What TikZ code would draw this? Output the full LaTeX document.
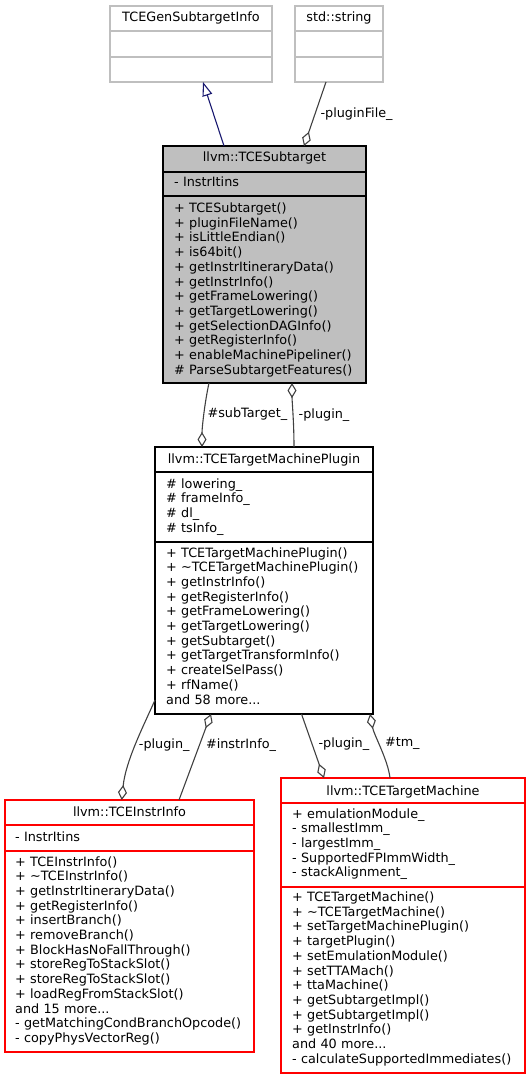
\documentclass[tikz,border=0pt]{standalone}
\usepackage{fontspec}
\setmainfont{DejaVu Sans}
\usepackage{xcolor}
\usetikzlibrary{arrows.meta, calc}

\definecolor{edgegray}{HTML}{404040}
\definecolor{boxgray}{HTML}{BFBFBF}
\definecolor{inhblue}{HTML}{191970}

\tikzset{
  umlbox/.style={draw=black, fill=white, line width=1.3pt, inner sep=0pt, outer sep=0pt, anchor=north west},
  sidebox/.style={umlbox, draw=boxgray},
  redbox/.style={umlbox, draw=red},
  curbox/.style={umlbox, fill=boxgray},
  divider/.style={line width=1.3pt},
  classtitle/.style={anchor=base, inner sep=0pt},
  memberlist/.style={anchor=base west, inner sep=0pt, align=left, text width=240pt},
  aggr/.style={draw=edgegray, line width=1.1pt, -{Diamond[open,length=15pt,width=9pt]}},
  inherit/.style={draw=inhblue, line width=1.1pt, -{Triangle[open,length=14pt,width=10pt]}},
  role/.style={inner sep=0pt},
}

\begin{document}
\begin{tikzpicture}[x=1pt, y=-1pt, font=\fontsize{12.8}{14.7}\selectfont]
\useasboundingbox (0,0) rectangle (531,1080);

% base classes
\node[sidebox, minimum width=162pt, minimum height=76pt] (gen) at (110,6) {};
\draw[divider, boxgray] (gen.west |- 0,31) -- (gen.east |- 0,31);
\draw[divider, boxgray] (gen.west |- 0,57) -- (gen.east |- 0,57);
\node[classtitle] (gen-title) at ($(gen.north)+(0,15.5)$) {TCEGenSubtargetInfo};

\node[sidebox, minimum width=88pt, minimum height=76pt] (str) at (295,6) {};
\draw[divider, boxgray] (str.west |- 0,31) -- (str.east |- 0,31);
\draw[divider, boxgray] (str.west |- 0,57) -- (str.east |- 0,57);
\node[classtitle] (str-title) at ($(str.north)+(0,15.5)$) {std::string};

% llvm::TCESubtarget
\node[curbox, minimum width=203pt, minimum height=237pt] (sub) at (163,146) {};
\draw[divider] (sub.west |- 0,172) -- (sub.east |- 0,172);
\draw[divider] (sub.west |- 0,196) -- (sub.east |- 0,196);
\node[classtitle] (sub-title) at ($(sub.north)+(0,15)$) {llvm::TCESubtarget};
\node[memberlist] (sub-attr) at (174,186.5) {- InstrItins};
\node[memberlist] (sub-ops) at (174,212.5) {+ TCESubtarget()\\+ pluginFileName()\\+ isLittleEndian()\\+ is64bit()\\+ getInstrItineraryData()\\+ getInstrInfo()\\+ getFrameLowering()\\+ getTargetLowering()\\+ getSelectionDAGInfo()\\+ getRegisterInfo()\\+ enableMachinePipeliner()\\\# ParseSubtargetFeatures()};

% llvm::TCETargetMachinePlugin
\node[umlbox, minimum width=218pt, minimum height=267pt] (plug) at (155,447) {};
\draw[divider] (plug.west |- 0,472) -- (plug.east |- 0,472);
\draw[divider] (plug.west |- 0,542) -- (plug.east |- 0,542);
\node[classtitle] (plug-title) at ($(plug.north)+(0,16)$) {llvm::TCETargetMachinePlugin};
\node[memberlist] (plug-attr) at (166,488) {\# lowering\_\\\# frameInfo\_\\\# dl\_\\\# tsInfo\_};
\node[memberlist] (plug-ops) at (166,557) {+ TCETargetMachinePlugin()\\+ \textasciitilde TCETargetMachinePlugin()\\+ getInstrInfo()\\+ getRegisterInfo()\\+ getFrameLowering()\\+ getTargetLowering()\\+ getSubtarget()\\+ getTargetTransformInfo()\\+ createISelPass()\\+ rfName()\\and 58 more...};

% llvm::TCEInstrInfo
\node[redbox, minimum width=249pt, minimum height=252pt] (instr) at (5,800) {};
\draw[divider, red] (instr.west |- 0,825) -- (instr.east |- 0,825);
\draw[divider, red] (instr.west |- 0,851) -- (instr.east |- 0,851);
\node[classtitle] (instr-title) at ($(instr.north)+(0,16)$) {llvm::TCEInstrInfo};
\node[memberlist] (instr-attr) at (15,841) {- InstrItins};
\node[memberlist] (instr-ops) at (15,866) {+ TCEInstrInfo()\\+ \textasciitilde TCEInstrInfo()\\+ getInstrItineraryData()\\+ getRegisterInfo()\\+ insertBranch()\\+ removeBranch()\\+ BlockHasNoFallThrough()\\+ storeRegToStackSlot()\\+ storeRegToStackSlot()\\+ loadRegFromStackSlot()\\and 15 more...\\- getMatchingCondBranchOpcode()\\- copyPhysVectorReg()};

% llvm::TCETargetMachine
\node[redbox, minimum width=244pt, minimum height=295pt] (tm) at (281,778) {};
\draw[divider, red] (tm.west |- 0,803) -- (tm.east |- 0,803);
\draw[divider, red] (tm.west |- 0,887) -- (tm.east |- 0,887);
\node[classtitle] (tm-title) at ($(tm.north)+(0,17)$) {llvm::TCETargetMachine};
\node[memberlist] (tm-attr) at (292,818) {+ emulationModule\_\\- smallestImm\_\\- largestImm\_\\- SupportedFPImmWidth\_\\- stackAlignment\_};
\node[memberlist] (tm-ops) at (292,901.5) {+ TCETargetMachine()\\+ \textasciitilde TCETargetMachine()\\+ setTargetMachinePlugin()\\+ targetPlugin()\\+ setEmulationModule()\\+ setTTAMach()\\+ ttaMachine()\\+ getSubtargetImpl()\\+ getSubtargetImpl()\\+ getInstrInfo()\\and 40 more...\\- calculateSupportedImmediates()};

% relations
\draw[inherit] (sub.north -| 224,0) -- (gen.south -| 203,0);
\draw[aggr] (str.south -| 326,0) -- (sub.north -| 304,0) node[role, midway, right=5pt] {-pluginFile\_};
\draw[aggr] (sub.south -| 209,0) .. controls +(-4,18) and +(0,-20) .. (plug.north -| 202,0) node[role, pos=0.5, right=3pt] {\#subTarget\_};
\draw[aggr] (plug.north -| 294,0) .. controls +(0,-25) and +(0,18) .. (sub.south -| 292,0) node[role, pos=0.45, right=5pt] {-plugin\_};
\draw[aggr] (plug.west |- 0,700) .. controls +(-12,27) and +(4,-39) .. (instr.north -| 121.7,0) node[role, pos=0.5, right=3pt] {-plugin\_};
\draw[aggr] (instr.north -| 179,0) -- (plug.south -| 211,0) node[role, pos=0.64, right=6pt] {\#instrInfo\_};
\draw[aggr] (plug.south -| 301.5,0) -- (tm.north -| 324,0) node[role, pos=0.47, right=6pt] {-plugin\_};
\draw[aggr] (tm.north -| 390,0) .. controls +(-2,-18) and +(4,21) .. (plug.south -| 370,0) node[role, pos=0.55, right=5pt] {\#tm\_};
\end{tikzpicture}
\end{document}
